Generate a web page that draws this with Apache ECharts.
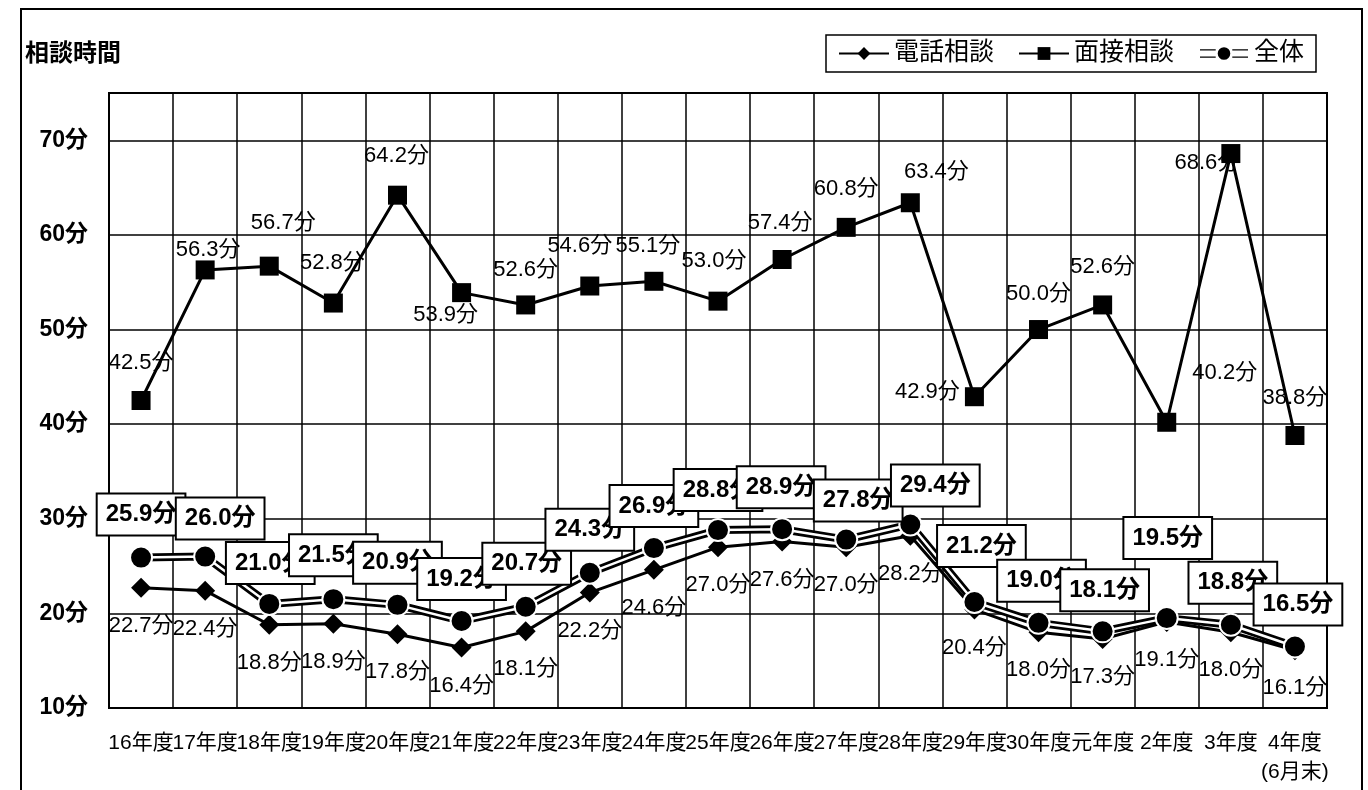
<!DOCTYPE html>
<html>
<head>
<meta charset="utf-8">
<script src="https://cdn.jsdelivr.net/npm/echarts@6/dist/echarts.min.js"></script>
<style>
html,body{margin:0;padding:0;background:#fff;}
#chart{width:1368px;height:790px;}
</style>
</head>
<body>
<div id="chart"></div>
<script>
const categories = ['16年度','17年度','18年度','19年度','20年度','21年度','22年度','23年度','24年度','25年度','26年度','27年度','28年度','29年度','30年度','元年度','2年度','3年度','4年度\n(6月末)'];
const phone = [22.7,22.4,18.8,18.9,17.8,16.4,18.1,22.2,24.6,27.0,27.6,27.0,28.2,20.4,18.0,17.3,19.1,18.0,16.1];
const interview = [42.5,56.3,56.7,52.8,64.2,53.9,52.6,54.6,55.1,53.0,57.4,60.8,63.4,42.9,50.0,52.6,40.2,68.6,38.8];
const overall = [25.9,26.0,21.0,21.5,20.9,19.2,20.7,24.3,26.9,28.8,28.9,27.8,29.4,21.2,19.0,18.1,19.5,18.8,16.5];

// label placement (layout only)
const overallLabelOffset = [[0,-43],[15,-38],[1,-41],[0,-44],[0,-42],[0,-42],[1,-43],[0,-43],[0,-42],[0,-40],[-1,-42],[12,-39],[25,-39],[7,-56],[3,-42],[2,-41],[1,-80],[2,-42],[3,-42]];
const interviewLabelOffset = [[0,-38],[3,-20],[14,-43],[-1,-40],[-1,-39],[-16,22],[0,-35],[-10,-40],[-6,-35],[-4,-40],[-2,-37],[0,-38],[26,-31],[-47,-5],[0,-36],[0,-38],[58,-49],[-24,9],[0,-38]];

const FONT = "'Liberation Sans','Noto Sans CJK JP',sans-serif";
const fmt = p => Number(p.value).toFixed(1) + '分';

const chart = echarts.init(document.getElementById('chart'));
chart.setOption({
  animation: false,
  backgroundColor: '#fff',
  textStyle: { fontFamily: FONT, color: '#000' },
  title: {
    text: '相談時間', left: 25, top: 42, padding: 0,
    textStyle: { fontFamily: FONT, fontSize: 24, fontWeight: 'bold', color: '#000' }
  },
  graphic: [{
    type: 'rect', z: -10, silent: true,
    shape: { x: 21, y: 9, width: 1341, height: 800 },
    style: { fill: 'none', stroke: '#000', lineWidth: 2 }
  }],
  legend: {
    left: 826, top: 35,
    padding: [6, 12],
    itemGap: 24,
    itemWidth: 50, itemHeight: 16,
    borderColor: '#000', borderWidth: 1.5, backgroundColor: '#fff',
    textStyle: { fontFamily: FONT, fontSize: 25, color: '#000' },
    data: [
      { name: '電話相談' },
      { name: '面接相談' },
      { name: '全体', icon: 'path://M0,2h17v3H0z M0,9h17v3H0z M31,2h17v3H31z M31,9h17v3H31z M17,7a7,7 0 1,0 14,0a7,7 0 1,0 -14,0z' }
    ]
  },
  grid: {
    left: 109, right: 41, top: 93, bottom: 82,
    show: true, borderColor: '#000', borderWidth: 2, backgroundColor: '#fff'
  },
  xAxis: {
    type: 'category', data: categories, boundaryGap: true,
    axisLine: { show: true, lineStyle: { color: '#000', width: 2 } },
    axisTick: { show: false },
    splitLine: { show: true, interval: 0, lineStyle: { color: '#000', width: 1.5 } },
    axisLabel: { interval: 0, margin: 21, fontFamily: FONT, fontSize: 21, color: '#000', lineHeight: 29 }
  },
  yAxis: {
    type: 'value', min: 10, max: 75, interval: 10,
    axisLine: { show: true, lineStyle: { color: '#000', width: 2 } },
    axisTick: { show: false },
    splitLine: { show: true, lineStyle: { color: '#000', width: 1.5 } },
    axisLabel: { showMaxLabel: false, margin: 21, fontFamily: FONT, fontSize: 23, fontWeight: 'bold', color: '#000', formatter: v => v + '分' }
  },
  series: [
    {
      name: '電話相談', type: 'line', z: 2,
      data: phone,
      symbol: 'diamond', symbolSize: 20,
      itemStyle: { color: '#000' },
      lineStyle: { color: '#000', width: 3 },
      label: { show: true, position: 'inside', offset: [0, 38], formatter: fmt, fontFamily: FONT, fontSize: 22, color: '#000' }
    },
    {
      name: '面接相談', type: 'line', z: 2,
      data: interview.map((v, i) => ({ value: v, label: { offset: interviewLabelOffset[i] } })),
      symbol: 'rect', symbolSize: 19,
      itemStyle: { color: '#000' },
      lineStyle: { color: '#000', width: 3 },
      label: { show: true, position: 'inside', formatter: fmt, fontFamily: FONT, fontSize: 22, color: '#000' }
    },
    {
      name: '全体_outer', type: 'line', z: 3, silent: true,
      data: overall, showSymbol: false, symbol: 'none',
      lineStyle: { color: '#000', width: 8 }
    },
    {
      name: '全体_inner', type: 'line', z: 4, silent: true,
      data: overall, showSymbol: false, symbol: 'none',
      lineStyle: { color: '#fff', width: 2.5 }
    },
    {
      name: '全体', type: 'line', z: 5,
      data: overall.map((v, i) => ({ value: v, label: { offset: overallLabelOffset[i] } })),
      symbol: 'circle', symbolSize: 22,
      itemStyle: { color: '#000', borderColor: '#fff', borderWidth: 2 },
      lineStyle: { width: 0, opacity: 0 },
      label: {
        show: true, position: 'inside', formatter: fmt,
        fontFamily: FONT, fontSize: 24, fontWeight: 'bold', color: '#000', lineHeight: 26,
        backgroundColor: '#fff', borderColor: '#000', borderWidth: 2, padding: [7, 8]
      }
    }
  ]
});
</script>
</body>
</html>
